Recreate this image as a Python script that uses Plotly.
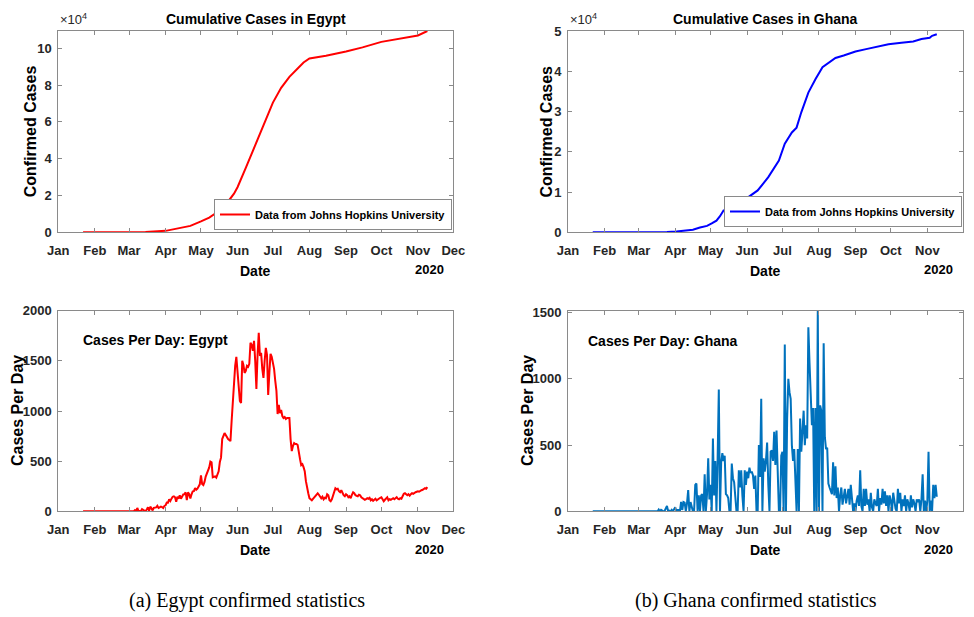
import pandas as pd
import plotly.graph_objects as go

# ---------------- data ----------------
start_date = "2020-01-22"

egypt_daily = (
    [0] * 10  # Jan 22-31
    + [0] * 13 + [1] + [0] * 15  # Feb
    + [0, 1, 0, 0, 0, 12, 0, 33, 4, 4, 0, 21, 13, 13, 0, 17, 40, 6, 46, 29,
       9, 35, 41, 39, 54, 33, 40, 46, 41, 33, 54]  # Mar
    + [60, 86, 85, 120, 103, 126, 145, 149, 139, 95, 145, 125, 160, 125, 155,
       168, 171, 189, 112, 189, 171, 129, 170, 199, 201, 232, 215, 226, 248, 269]  # Apr
    + [358, 272, 262, 293, 346, 380, 398, 438, 495, 488, 339, 347, 348, 335, 380,
       398, 491, 535, 720, 745, 780, 760, 730, 720, 710, 700, 900, 1100, 1300, 1450, 1540]  # May
    + [1400, 1250, 1100, 1080, 1500, 1460, 1380, 1400, 1450, 1440, 1470, 1680, 1660, 1600, 1700,
       1500, 1220, 1560, 1780, 1550, 1580, 1420, 1330, 1500, 1630, 1560, 1160, 1380, 1570, 1540]  # Jun
    + [1490, 1420, 1300, 1200, 970, 1060, 980, 1010, 950, 930, 940, 920, 930, 930, 930,
       720, 600, 650, 680, 670, 670, 660, 560, 520, 460, 470, 440, 400, 300, 220, 180]  # Jul
    + [130, 120, 110, 125, 140, 160, 175, 180, 165, 140, 130, 145, 120, 135, 130,
       170, 160, 110, 100, 120, 150, 190, 230, 220, 225, 200, 190, 210, 180, 160, 150]  # Aug
    + [170, 160, 140, 150, 130, 165, 190, 180, 160, 155, 150, 165, 160, 140, 130,
       125, 115, 120, 130, 125, 135, 110, 120, 105, 115, 125, 110, 120, 130, 135]  # Sep
    + [140, 110, 100, 115, 130, 140, 110, 120, 115, 125, 130, 120, 135, 140, 125,
       120, 130, 125, 150, 175, 180, 165, 160, 170, 155, 170, 180, 175, 185, 190, 195]  # Oct
    + [200, 195, 205, 210, 215, 220, 230, 225, 240]  # Nov 1-9
)

ghana_daily = (
    [0] * 10  # Jan 22-31
    + [0] * 29  # Feb
    + [0] * 11 + [2, 0, 0, 4, 0, 0, 13, 0, 11, 3, 0, 3, 21, 40, 0, 5, 0, 11, 0, 20]  # Mar
    + [30, 0, 10, 10, 0, 72, 10, 70, 65, 0, 60, 160, 0, 70, 30,
       0, 0, 200, 210, 0, 120, 0, 120, 130, 0, 280, 0, 130, 400, 90]  # Apr
    + [200, 0, 550, 120, 380, 0, 400, 920, 0, 370, 440, 380, 420, 130, 120,
       100, 0, 0, 360, 250, 220, 100, 0, 0, 310, 180, 310, 120, 0, 310, 200]  # May
    + [300, 250, 330, 290, 300, 270, 170, 270, 0, 0, 500, 260, 850, 0, 400,
       300, 380, 520, 200, 0, 450, 460, 380, 600, 350, 610, 300, 0, 0, 420]  # Jun
    + [450, 0, 1260, 0, 700, 1000, 900, 850, 500, 380, 470, 250, 0, 470, 0,
       700, 450, 600, 760, 500, 650, 550, 1390, 1120, 800, 650, 780, 0, 780, 0, 1520]  # Jul
    + [0, 800, 760, 0, 1270, 560, 470, 480, 210, 180, 160, 130, 370, 120, 340,
       100, 180, 0, 120, 180, 50, 100, 170, 60, 120, 170, 50, 200, 100, 0, 60]  # Aug
    + [0, 80, 120, 40, 310, 40, 0, 170, 40, 170, 50, 90, 0, 140, 30,
       0, 90, 60, 40, 170, 0, 100, 50, 170, 60, 150, 40, 120, 0, 120]  # Sep
    + [80, 0, 140, 80, 20, 0, 170, 60, 140, 0, 90, 40, 120, 0, 90,
       60, 0, 120, 30, 90, 60, 0, 90, 70, 90, 0, 90, 280, 0, 80, 0]  # Oct
    + [80, 450, 0, 80, 0, 200, 100, 200, 110]  # Nov 1-9
)

egypt_cum_dates = ["2020-01-22", "2020-02-14", "2020-03-01", "2020-03-15", "2020-04-01",
                   "2020-04-08", "2020-04-15", "2020-04-22", "2020-05-01", "2020-05-08",
                   "2020-05-15", "2020-05-22", "2020-05-29", "2020-06-01", "2020-06-08",
                   "2020-06-15", "2020-06-22", "2020-07-01", "2020-07-08", "2020-07-15",
                   "2020-07-22", "2020-07-27", "2020-08-01", "2020-08-15", "2020-09-01",
                   "2020-09-15", "2020-10-01", "2020-10-15", "2020-11-01", "2020-11-09"]
egypt_cum_values = [0, 1, 2, 126, 779, 1560, 2350, 3500, 5900, 8000, 11000, 15000, 21000,
                    24500, 35000, 46000, 56500, 70500, 78500, 84500, 89000, 92300, 94500,
                    96000, 98300, 100500, 103500, 105000, 107000, 109400]

ghana_cum_dates = ["2020-01-22", "2020-03-12", "2020-03-25", "2020-04-02", "2020-04-10",
                   "2020-04-16", "2020-04-22", "2020-04-28", "2020-05-02", "2020-05-06",
                   "2020-05-09", "2020-05-12", "2020-05-17", "2020-05-24", "2020-05-31",
                   "2020-06-10", "2020-06-19", "2020-06-28", "2020-07-03", "2020-07-09",
                   "2020-07-13", "2020-07-17", "2020-07-23", "2020-07-26", "2020-07-29",
                   "2020-08-04", "2020-08-10", "2020-08-15", "2020-08-22", "2020-09-01",
                   "2020-09-10", "2020-09-20", "2020-09-29", "2020-10-10", "2020-10-20",
                   "2020-10-27", "2020-11-03", "2020-11-05", "2020-11-09"]
ghana_cum_values = [0, 2, 68, 200, 400, 640, 1200, 1600, 2200, 2900, 4000, 5400, 6000, 6800,
                    8300, 10400, 13700, 17800, 22000, 24800, 26000, 29800, 34700, 36500,
                    38000, 41000, 42200, 43300, 43900, 44900, 45500, 46100, 46700, 47100,
                    47400, 48000, 48300, 48800, 49200]

month_ticks = ["2020-%02d-01" % m for m in range(1, 13)]
month_labels = ["Jan", "Feb", "Mar", "Apr", "May", "Jun", "Jul", "Aug", "Sep", "Oct", "Nov", "Dec"]

cum_egypt_ticks = [0, 20000, 40000, 60000, 80000, 100000]
cum_egypt_labels = ["0", "2", "4", "6", "8", "10"]
cum_ghana_ticks = [0, 10000, 20000, 30000, 40000, 50000]
cum_ghana_labels = ["0", "1", "2", "3", "4", "5"]
daily_egypt_ticks = [0, 500, 1000, 1500, 2000]
daily_ghana_ticks = [0, 500, 1000, 1500]

legend_name = "Data from Johns Hopkins University"

# ---------------- figure ----------------
W, H = 974, 617
SANS = "Liberation Sans, Arial, sans-serif"
SERIF = "Liberation Serif, DejaVu Serif, serif"
AXC = "#8a8a8a"
TXT = "#262626"


def px(x):
    return x / W


def py(y):
    return 1 - y / H


L1, R1 = 58.3, 453.3
L2, R2 = 568.0, 962.7
T1, B1 = 31.0, 232.3
T2, B2 = 310.7, 511.3

egypt_dates = pd.date_range(start_date, periods=len(egypt_daily), freq="D")
ghana_dates = pd.date_range(start_date, periods=len(ghana_daily), freq="D")

fig = go.Figure()
fig.add_trace(go.Scatter(x=pd.to_datetime(egypt_cum_dates), y=egypt_cum_values, mode="lines",
                         line=dict(color="#FF0000", width=2), name=legend_name,
                         xaxis="x", yaxis="y", legend="legend"))
fig.add_trace(go.Scatter(x=pd.to_datetime(ghana_cum_dates), y=ghana_cum_values, mode="lines",
                         line=dict(color="#0000FF", width=2), name=legend_name,
                         xaxis="x2", yaxis="y2", legend="legend2"))
fig.add_trace(go.Scatter(x=egypt_dates, y=egypt_daily, mode="lines",
                         line=dict(color="#FF0000", width=2), showlegend=False,
                         xaxis="x3", yaxis="y3"))
fig.add_trace(go.Scatter(x=ghana_dates, y=ghana_daily, mode="lines",
                         line=dict(color="#0072BD", width=2), showlegend=False,
                         xaxis="x4", yaxis="y4"))

tickfont = dict(family=SANS, size=13, color=TXT, weight="bold")


def xax(dom, anchor):
    return dict(domain=dom, anchor=anchor, range=["2020-01-01", "2020-12-01"],
                tickmode="array", tickvals=month_ticks, ticktext=month_labels,
                ticks="inside", ticklen=4, tickcolor=AXC, showline=True, linecolor=AXC,
                linewidth=1, mirror="allticks", showgrid=False, zeroline=False,
                tickfont=tickfont, ticklabelstandoff=6, automargin=False)


def yax(dom, anchor, rng, tv, tt):
    return dict(domain=dom, anchor=anchor, range=rng, tickmode="array", tickvals=tv,
                ticktext=tt, ticks="inside", ticklen=4, tickcolor=AXC, showline=True,
                linecolor=AXC, linewidth=1, mirror="allticks", showgrid=False,
                zeroline=False, tickfont=tickfont, ticklabelstandoff=3, automargin=False)


legend_font = dict(family=SANS, size=11, color="black", weight="bold")

fig.update_layout(
    template="none",
    width=W, height=H, margin=dict(l=0, r=0, t=0, b=0, pad=0, autoexpand=False),
    paper_bgcolor="white", plot_bgcolor="white", showlegend=True,
    xaxis=xax([px(L1), px(R1)], "y"),
    yaxis=yax([py(B1), py(T1)], "x", [0, 109400], cum_egypt_ticks, cum_egypt_labels),
    xaxis2=xax([px(L2), px(R2)], "y2"),
    yaxis2=yax([py(B1), py(T1)], "x2", [0, 50000], cum_ghana_ticks, cum_ghana_labels),
    xaxis3=xax([px(L1), px(R1)], "y3"),
    yaxis3=yax([py(B2), py(T2)], "x3", [0, 2000], daily_egypt_ticks, [str(v) for v in daily_egypt_ticks]),
    xaxis4=xax([px(L2), px(R2)], "y4"),
    yaxis4=yax([py(B2), py(T2)], "x4", [0, 1515], daily_ghana_ticks, [str(v) for v in daily_ghana_ticks]),
    legend=dict(x=px(452), y=py(230), xanchor="right", yanchor="bottom",
                bordercolor=AXC, borderwidth=1, bgcolor="white", itemwidth=30,
                font=legend_font),
    legend2=dict(x=px(962), y=py(227), xanchor="right", yanchor="bottom",
                 bordercolor=AXC, borderwidth=1, bgcolor="white", itemwidth=30,
                 font=legend_font),
)

ann = []


def text(x, y, s, size=14, family=SANS, weight="bold", xanchor="center",
         yanchor="middle", angle=0, color="black"):
    ann.append(dict(x=px(x), y=py(y), xref="paper", yref="paper", text=s, showarrow=False,
                    xanchor=xanchor, yanchor=yanchor, textangle=angle,
                    font=dict(family=family, size=size, color=color, weight=weight)))


for (L, R) in [(L1, R1), (L2, R2)]:
    cx = (L + R) / 2
    text(cx, 271, "Date", size=14)
    text(R - 24, 269, "2020", size=13)
    text(cx, 550, "Date", size=14)
    text(R - 24, 549, "2020", size=13)
    text(L, 29, "\u00d710<sup>4</sup>", size=13, weight="normal", xanchor="left",
         yanchor="bottom", color=TXT)

text((L1 + R1) / 2, 19, "Cumulative Cases in Egypt", size=14)
text((L2 + R2) / 2, 19, "Cumulative Cases in Ghana", size=14)
text(30.7, 131.6, "Confirmed Cases", size=16, angle=-90)
text(547, 131.6, "Confirmed Cases", size=16, angle=-90)
text(17, 411, "Cases Per Day", size=16, angle=-90)
text(527, 411, "Cases Per Day", size=16, angle=-90)
text(81, 340, "Cases Per Day: Egypt", size=14, xanchor="left")
text(586, 340.7, "Cases Per Day: Ghana", size=14, xanchor="left")
text(247, 600, "(a) Egypt confirmed statistics", size=20, family=SERIF, weight="normal")
text(756, 600, "(b) Ghana confirmed statistics", size=20, family=SERIF, weight="normal")

fig.update_layout(annotations=ann)
fig.write_html("out.html")
